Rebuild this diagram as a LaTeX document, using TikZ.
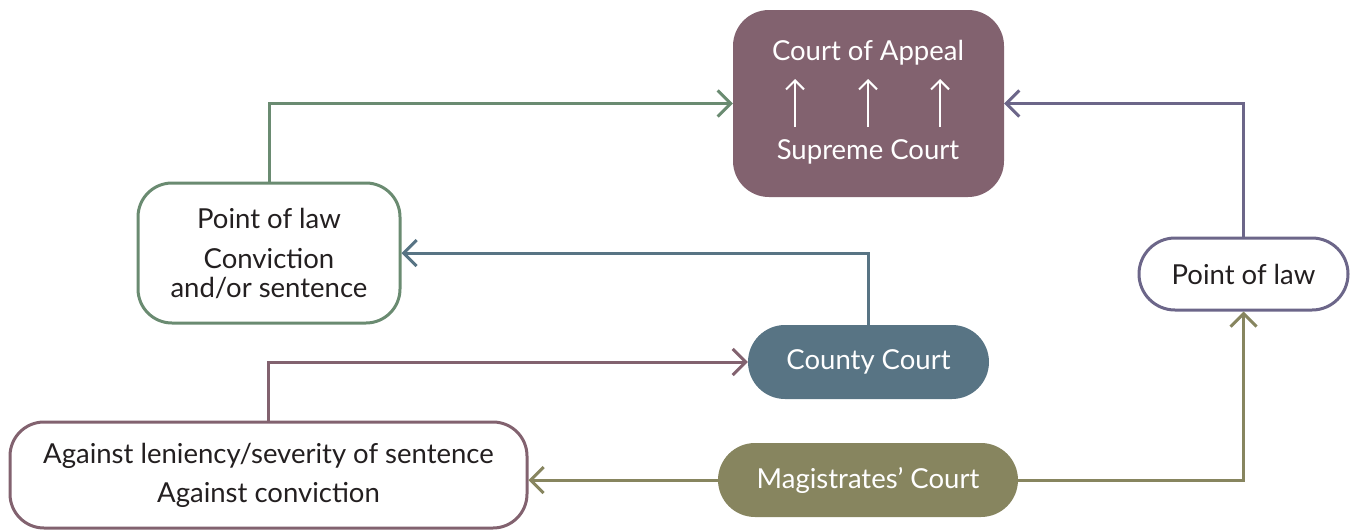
\documentclass[tikz,border=0pt]{standalone}
\usepackage{fontspec}
\setmainfont{Lato}
\usetikzlibrary{arrows.meta}
\definecolor{mauve}{HTML}{82626F}
\definecolor{sage}{HTML}{6A8B71}
\definecolor{slate}{HTML}{6C6689}
\definecolor{steel}{HTML}{587484}
\definecolor{olive}{HTML}{87855F}
\definecolor{ink}{HTML}{231F20}
\begin{document}
\begin{tikzpicture}[x=1pt,y=-1pt,
  txt/.style={font=\fontsize{27.5}{29}\selectfont, align=center, inner sep=0pt},
  outline/.style={txt, draw, line width=3pt, fill=white, text=ink, rounded corners=34pt},
  solid/.style={txt, text=white, rounded corners=37pt, minimum height=74pt},
  link/.style={line width=3pt, -{Straight Barb[length=13pt,width=26pt,line width=3pt]}},
  uparrow/.style={draw=white, line width=2pt, -{Straight Barb[length=9pt,width=18pt,line width=2pt]}}
]
\useasboundingbox (0,0) rectangle (1350,531);

% Court of Appeal / Supreme Court block
\node[fill=mauve, rounded corners=36pt, minimum width=271pt, minimum height=187pt, inner sep=0pt] (court) at (868.5,103.5) {};
\node[txt, text=white] (ca) at (868,53) {Court of Appeal};
\node[txt, text=white] (sc) at (868,152) {Supreme Court};
\coordinate (a1b) at (795,127); \coordinate (a1t) at (795,79);
\coordinate (a2b) at (868,127); \coordinate (a2t) at (868,79);
\coordinate (a3b) at (940,127); \coordinate (a3t) at (940,79);
\draw[uparrow] (a1b) -- (a1t);
\draw[uparrow] (a2b) -- (a2t);
\draw[uparrow] (a3b) -- (a3t);

% appeal grounds boxes
\node[outline, draw=sage, minimum width=262pt, minimum height=140pt] (lpl) at (269,253)
  {Point of law\\[11pt]Conviction\\and/or sentence};
\node[outline, draw=slate, rounded corners=36pt, minimum width=209pt, minimum height=72pt] (rpl) at (1243.5,274) {Point of law};
\node[outline, draw=mauve, minimum width=517pt, minimum height=106pt] (bl) at (268.5,475)
  {Against leniency/severity of sentence\\[10pt]Against conviction};

% trial courts
\node[solid, fill=steel, minimum width=241pt] (county) at (868.5,362) {County Court};
\node[solid, fill=olive, minimum width=300pt] (mag) at (868,480) {Magistrates’ Court};

% routes of appeal
\draw[link, sage] (lpl.north) |- (court.west);
\draw[link, slate] (rpl.north) |- (court.east);
\draw[link, steel] (county.north) |- (lpl.east);
\draw[link, mauve] (bl.north) |- (county.west);
\draw[link, olive] (mag.east) -| (rpl.south);
\draw[link, olive] (mag.west) -- (mag.west -| bl.east);
\end{tikzpicture}
\end{document}
